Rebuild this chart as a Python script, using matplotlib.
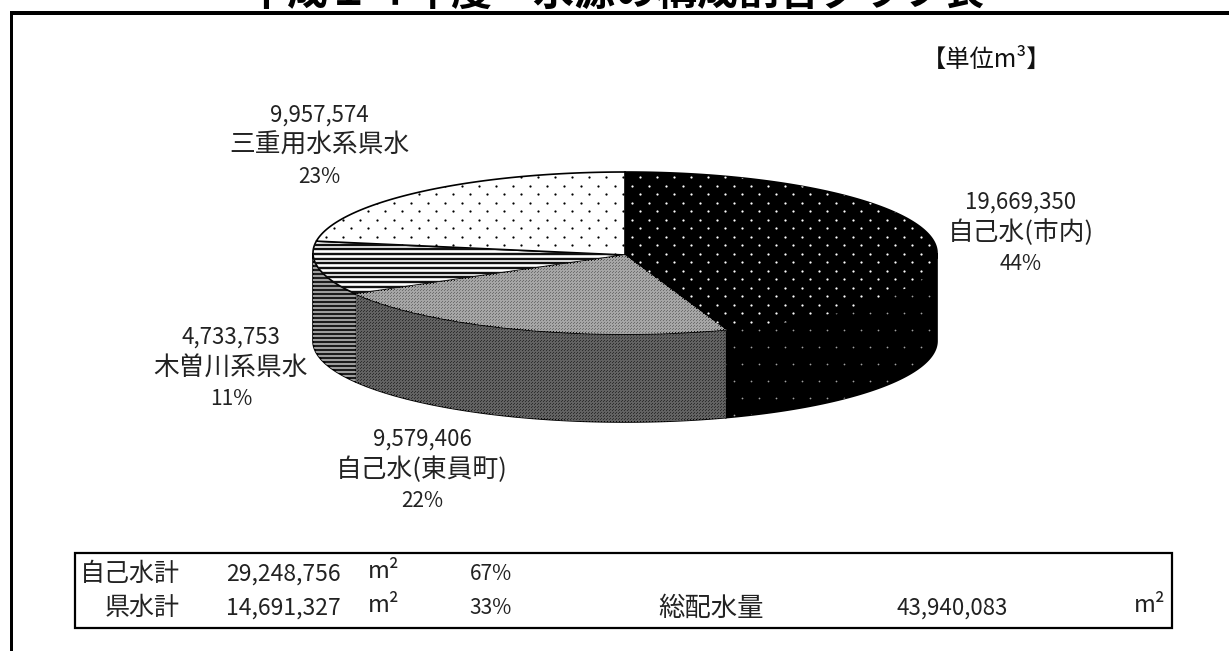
import numpy as np
import matplotlib
matplotlib.use("Agg")
import matplotlib.pyplot as plt
from matplotlib.patches import Polygon, Rectangle

plt.rcParams['font.family'] = ['Noto Sans CJK JP', 'DejaVu Sans']

names = ['自己水(市内)', '自己水(東員町)', '木曽川系県水', '三重用水系県水']
values = [19669350, 9579406, 4733753, 9957574]
percents = ['44%', '22%', '11%', '23%']
summary_names = ['自己水計', '県水計']
summary_values = ['29,248,756', '14,691,327']
summary_percents = ['67%', '33%']
total_name = '総配水量'
total_value = '43,940,083'
title = '平成１４年度　水源の構成割合グラフ表'

W, H = 1229, 651
fig = plt.figure(figsize=(W / 100, H / 100), dpi=100)
ax = fig.add_axes([0, 0, 1, 1])
ax.set_xlim(0, W)
ax.set_ylim(H, 0)
ax.axis('off')

cx, cy, a, b, depth = 625, 253, 312, 81, 88


def pt(t, dy=0):
    return np.column_stack([cx + a * np.sin(t), cy - b * np.cos(t) + dy])


def dots(patch, dx, dy, size, color, marker='o'):
    ys = np.arange(160, 440, dy)
    xs, yy = [], []
    for i, y in enumerate(ys):
        x = np.arange(300 + (i % 2) * dx / 2, 950, dx)
        xs.append(x)
        yy.append(np.full_like(x, y, dtype=float))
    s = ax.scatter(np.concatenate(xs), np.concatenate(yy), s=size, c=color,
                   marker=marker, linewidths=0, zorder=patch.get_zorder() + 0.1)
    s.set_clip_path(patch)


def stripes(patch, period, lw, color):
    ys = np.arange(160, 440, period)
    ls = ax.hlines(ys, 300, 950, colors=color, linewidth=lw,
                   zorder=patch.get_zorder() + 0.1)
    ls.set_clip_path(patch)


fr = np.cumsum([0] + values) / np.sum(values) * 2 * np.pi
side_colors = ['#000000', '#2e2e2e', '#1c1c1c', '#ffffff']
top_colors = ['#000000', '#6e6e6e', '#ffffff', '#ffffff']

# Rim, visible only on the front half of the ellipse
for i in range(4):
    lo, hi = max(fr[i], np.pi / 2), min(fr[i + 1], 3 * np.pi / 2)
    if hi <= lo:
        continue
    t = np.linspace(lo, hi, 120)
    poly = np.vstack([pt(t), pt(t[::-1], depth)])
    p = Polygon(poly, closed=True, facecolor=side_colors[i], edgecolor='black',
                linewidth=1.2, zorder=2)
    ax.add_patch(p)
    if i == 0:
        dots(p, 17, 17, 1.6, '#a0a0a0')
    elif i == 1:
        dots(p, 3, 1.5, 0.8, '#626262', 's')
    elif i == 2:
        stripes(p, 4, 1.4, '#a0a0a0')

# Top surface
for i in range(4):
    t = np.linspace(fr[i], fr[i + 1], 240)
    poly = np.vstack([[cx, cy + 2], pt(t)])
    p = Polygon(poly, closed=True, facecolor=top_colors[i], edgecolor='black',
                linewidth=1.2, zorder=4)
    ax.add_patch(p)
    if i == 0:
        dots(p, 17, 8.5, 2.6, 'white')
    elif i == 1:
        dots(p, 3, 1.5, 0.7, '#a6a6a6', 's')
    elif i == 2:
        stripes(p, 4.7, 1.7, '#111111')
    else:
        dots(p, 17, 8.5, 2.6, 'black')

# Frame
ax.add_patch(Rectangle((10, 11), W - 10, 4, facecolor='black', edgecolor='none'))
ax.add_patch(Rectangle((10, 11), 2.5, H - 11, facecolor='black', edgecolor='none'))

ax.text(615, 5, title, fontsize=29.5, fontweight='bold', ha='center', va='baseline', color='black')
ax.text(987, 60, '【単位m³】', fontsize=17.5, ha='center', va='center', color='#111111')

# Data labels
label_pos = [(1021, 202, 31), (422, 439, 31), (231, 337, 31), (319, 115, 31)]
for (x, y, g), n, v, pc in zip(label_pos, names, values, percents):
    ax.text(x, y, f'{v:,}', fontsize=16, ha='center', va='center', color='#222222')
    ax.text(x, y + g, n, fontsize=18.5, ha='center', va='center', color='#222222')
    ax.text(x, y + 2 * g, pc, fontsize=15, ha='center', va='center', color='#222222')

# Summary table
ax.add_patch(Rectangle((75, 553), 1097, 75, facecolor='white', edgecolor='black',
                       linewidth=1.6, zorder=3))
rows = [574, 608]
for y, n, v, pc in zip(rows, summary_names, summary_values, summary_percents):
    ax.text(180, y, n, fontsize=18, ha='right', va='center', zorder=5, color='#222222')
    ax.text(341, y, v, fontsize=16.5, ha='right', va='center', zorder=5, color='#222222')
    ax.text(384, y - 2, 'm²', fontsize=17, ha='center', va='center', zorder=5, color='#222222')
    ax.text(491, y, pc, fontsize=15, ha='center', va='center', zorder=5, color='#222222')
ax.text(711, rows[1], total_name, fontsize=19, ha='center', va='center', zorder=5, color='#222222')
ax.text(952, rows[1], total_value, fontsize=16, ha='center', va='center', zorder=5, color='#222222')
ax.text(1150, rows[1] - 2, 'm²', fontsize=17, ha='center', va='center', zorder=5, color='#222222')

fig.savefig('out.png', dpi=100)
